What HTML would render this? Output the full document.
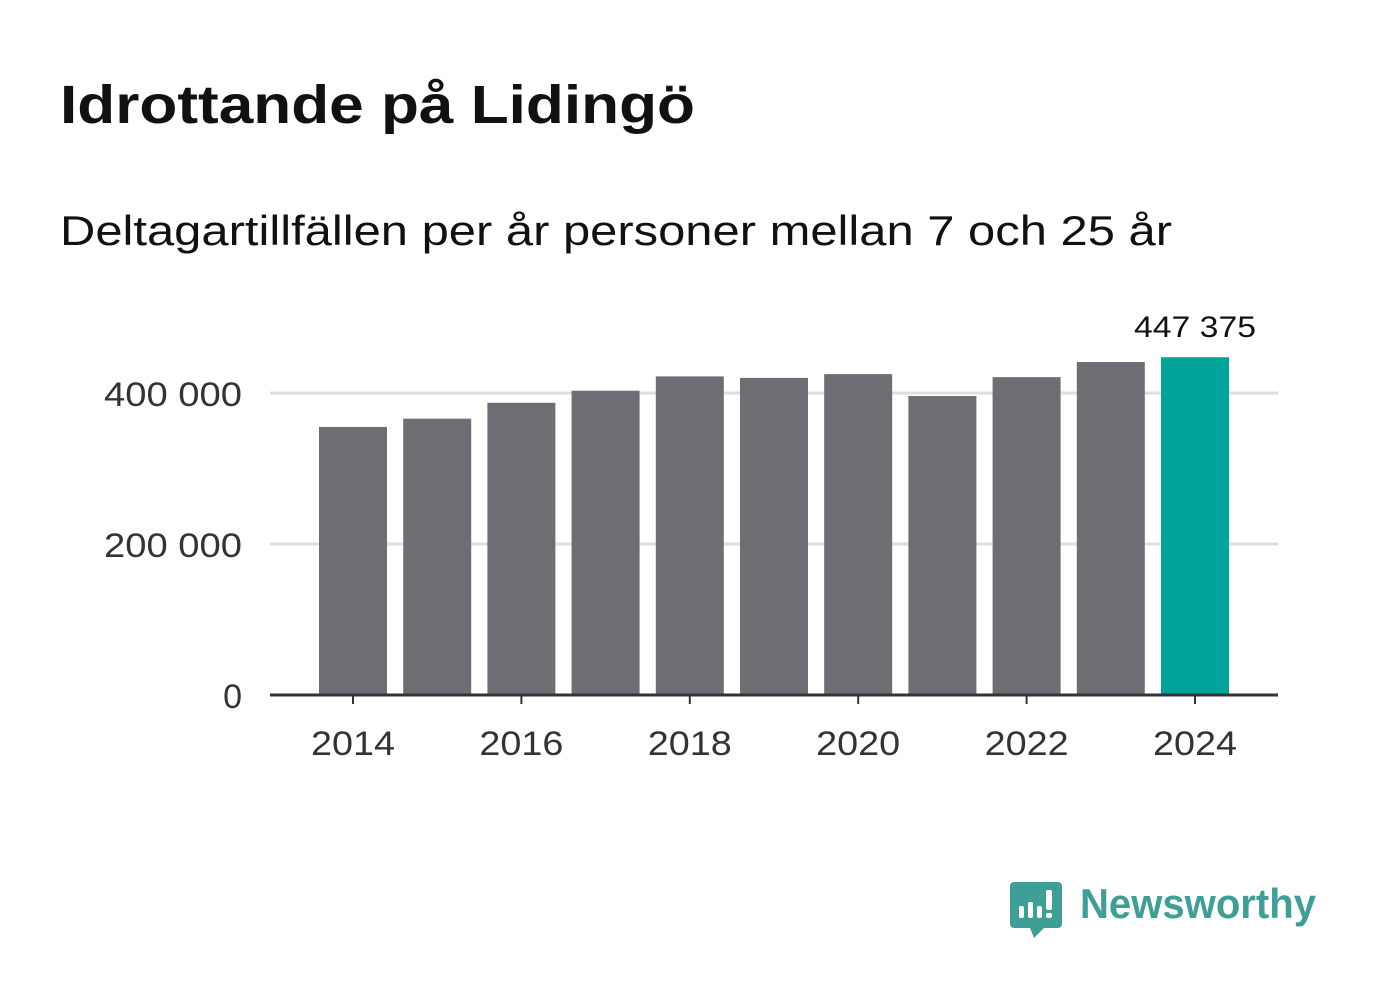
<!DOCTYPE html>
<html><head><meta charset="utf-8"><style>
body{margin:0;background:#fff;width:1382px;height:999px;overflow:hidden;font-family:"Liberation Sans","DejaVu Sans",sans-serif}
</style></head><body>
<svg width="1382" height="999" xmlns="http://www.w3.org/2000/svg">
<text x="60" y="123" font-size="54" font-weight="bold" fill="#111" textLength="635" lengthAdjust="spacingAndGlyphs" font-family="Liberation Sans, DejaVu Sans, sans-serif">Idrottande på Lidingö</text>
<text x="60" y="245" font-size="42" fill="#111" textLength="1112" lengthAdjust="spacingAndGlyphs" font-family="Liberation Sans, DejaVu Sans, sans-serif">Deltagartillfällen per år personer mellan 7 och 25 år</text>
<g id="grid"></g><g id="bars"></g><g id="axes"></g>
<g>
<path d="M1014 882 h44 a4 4 0 0 1 4 4 v38 a4 4 0 0 1 -4 4 h-14 l-10 10 l-4 -10 h-16 a4 4 0 0 1 -4 -4 v-38 a4 4 0 0 1 4 -4z" fill="#3f9e96"/>
<rect x="1019" y="906" width="5" height="12" rx="2" fill="#fff"/><rect x="1028" y="902" width="5" height="16" rx="2" fill="#fff"/><rect x="1037" y="906" width="5" height="12" rx="2" fill="#fff"/><rect x="1046" y="890" width="6" height="20" rx="2" fill="#fff"/><rect x="1046" y="913" width="6" height="5" rx="2" fill="#fff"/>
<text x="1080" y="918" font-size="42" font-weight="bold" fill="#3f9e96" textLength="236" lengthAdjust="spacingAndGlyphs" font-family="Liberation Sans, DejaVu Sans, sans-serif">Newsworthy</text>
</g>
</svg>
<script>
const years=[2014,2015,2016,2017,2018,2019,2020,2021,2022,2023,2024];
const values=[355000,366000,387000,403000,422000,420000,425000,396000,421000,441000,447375];
const yTicks=[0,200000,400000];
const yTickLabels=["0","200 000","400 000"];
const xTicks=[2014,2016,2018,2020,2022,2024];
const NS="http://www.w3.org/2000/svg";
const y=v=>695-v*302/400000;
const x=yr=>353+(yr-2014)*84.2;
function mk(t,a,p){const e=document.createElementNS(NS,t);for(const k in a)e.setAttribute(k,a[k]);p.appendChild(e);return e;}
const G=document.getElementById('grid'),B=document.getElementById('bars'),A=document.getElementById('axes');
yTicks.forEach((t,i)=>{
 if(t>0){const l=mk('line',{x1:270,x2:1278,y1:y(t),y2:y(t),stroke:'#dedede','stroke-width':3},G);
 
 }
 const tx=mk('text',{x:242,y:y(t)+13,'text-anchor':'end','font-size':34,fill:'#333'},A);
 if(yTickLabels[i].length>1){tx.setAttribute('textLength',138);tx.setAttribute('lengthAdjust','spacingAndGlyphs');}
 tx.textContent=yTickLabels[i];
 
 
});
years.forEach((yr,i)=>{
 const last=i===years.length-1;
 const r=mk('rect',{x:x(yr)-34,width:68,y:y(values[i]),height:695-y(values[i]),fill:last?'#00a49a':'#6e6d73'},B);
 
 
 if(last){const t=mk('text',{x:x(yr),y:y(values[i])-20,'text-anchor':'middle','font-size':30,fill:'#111',textLength:122,lengthAdjust:'spacingAndGlyphs'},B);
 t.textContent=values[i].toLocaleString('sv-SE').replace(/\s/g,' ');
 
 }
});
const ax=mk('line',{x1:270,x2:1278,y1:695,y2:695,stroke:'#333','stroke-width':3},A);


xTicks.forEach(yr=>{
 const tk=mk('line',{x1:x(yr),x2:x(yr),y1:695,y2:704,stroke:'#333','stroke-width':2},A);
 
 
 const t=mk('text',{x:x(yr),y:755,'text-anchor':'middle','font-size':34,fill:'#333',textLength:84,lengthAdjust:'spacingAndGlyphs'},A);
 t.textContent=yr;
 
 
});
</script>
</body></html>
